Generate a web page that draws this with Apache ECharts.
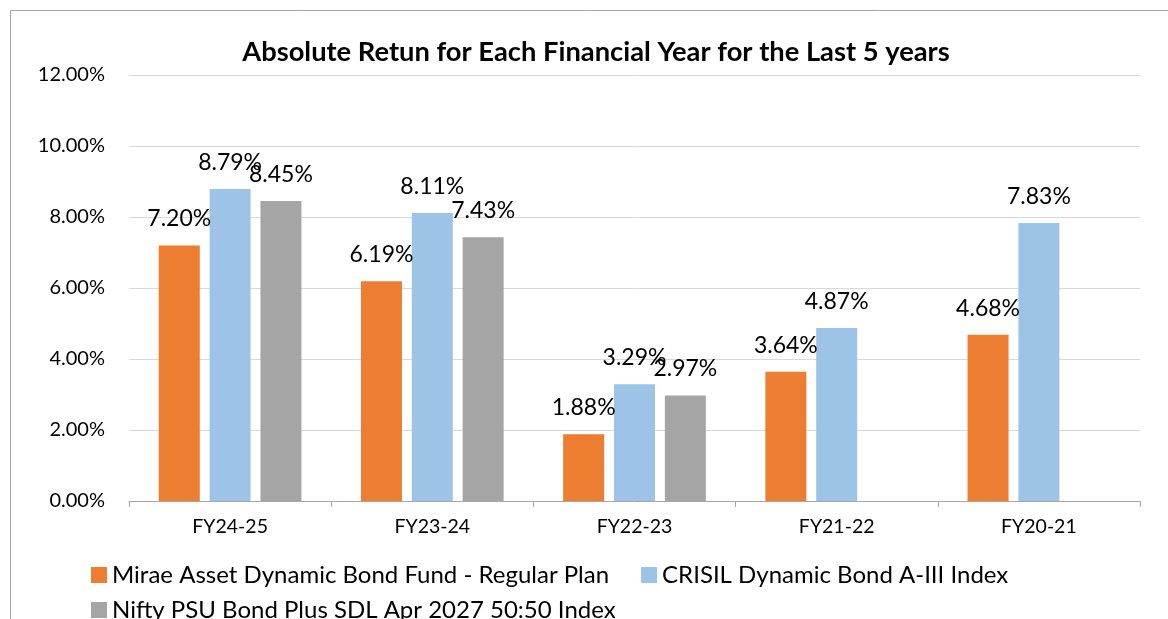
<!DOCTYPE html>
<html>
<head>
<meta charset="utf-8">
<script src="https://cdn.jsdelivr.net/npm/echarts@6/dist/echarts.min.js"></script>
<style>
  html, body { margin: 0; padding: 0; background: #fff; }
  #chart { width: 1168px; height: 619px; }
</style>
</head>
<body>
<div id="chart"></div>
<script>
const years = ['FY24-25', 'FY23-24', 'FY22-23', 'FY21-22', 'FY20-21']
const fundReturns = [7.20, 6.19, 1.88, 3.64, 4.68]
const crisilReturns = [8.79, 8.11, 3.29, 4.87, 7.83]
const niftyReturns = [8.45, 7.43, 2.97, null, null]
const seriesNames = [
  'Mirae Asset Dynamic Bond Fund - Regular Plan',
  'CRISIL Dynamic Bond A-III Index',
  'Nifty PSU Bond Plus SDL Apr 2027 50:50 Index'
]

const font = 'Lato, "Open Sans", sans-serif'
const chart = echarts.init(document.getElementById('chart'))

const labelStyle = {
  show: true,
  position: 'top',
  distance: 15,
  fontFamily: font,
  fontSize: 23,
  color: '#000',
  formatter: p => p.value == null ? '' : p.value.toFixed(2) + '%'
}

const makeSeries = (name, data, color) => ({
  name,
  type: 'bar',
  data,
  barWidth: 41,
  barGap: '24%',
  itemStyle: { color },
  label: labelStyle
})

const legendBase = {
  left: 86,
  itemWidth: 16,
  itemHeight: 16,
  itemGap: 32,
  icon: 'rect',
  textStyle: { fontFamily: font, fontSize: 24, color: '#000' }
}

chart.setOption({
  animation: false,
  graphic: [{
    type: 'rect',
    shape: { x: 10.5, y: 10.5, width: 1300, height: 800 },
    style: { fill: 'none', stroke: '#a6a6a6', lineWidth: 1 }
  }],
  title: {
    text: 'Absolute Retun for Each Financial Year for the Last 5 years',
    left: 591,
    textAlign: 'center',
    top: 34,
    textStyle: { fontFamily: font, fontSize: 27.3, fontWeight: 'bold', color: '#000' }
  },
  legend: [
    Object.assign({ top: 558, data: seriesNames.slice(0, 2) }, legendBase),
    Object.assign({ top: 593, data: seriesNames.slice(2) }, legendBase)
  ],
  grid: { left: 129, right: 28, top: 75, bottom: 118 },
  xAxis: {
    type: 'category',
    data: years,
    axisLine: { lineStyle: { color: '#a6a6a6' } },
    axisTick: { show: true, length: 6, lineStyle: { color: '#a6a6a6' } },
    axisLabel: { fontFamily: font, fontSize: 19.5, color: '#000', margin: 16 }
  },
  yAxis: {
    type: 'value',
    min: 0,
    max: 12,
    interval: 2,
    axisLine: { show: false },
    axisTick: { show: false },
    splitLine: { lineStyle: { color: '#d9d9d9' } },
    axisLabel: {
      fontFamily: font,
      fontSize: 20,
      color: '#000',
      margin: 24,
      formatter: v => v.toFixed(2) + '%'
    }
  },
  series: [
    makeSeries(seriesNames[0], fundReturns, '#ed7d31'),
    makeSeries(seriesNames[1], crisilReturns, '#9dc3e6'),
    makeSeries(seriesNames[2], niftyReturns, '#a5a5a5')
  ]
})
</script>
</body>
</html>
